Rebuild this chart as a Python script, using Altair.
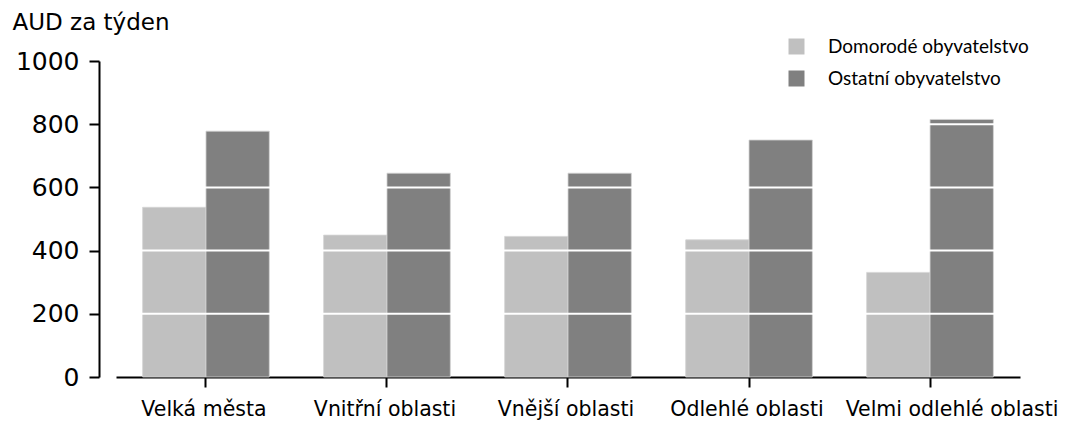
import altair as alt
import pandas as pd

categories = ["Velká města", "Vnitřní oblasti", "Vnější oblasti", "Odlehlé oblasti", "Velmi odlehlé oblasti"]
series = ["Domorodé obyvatelstvo", "Ostatní obyvatelstvo"]
indigenous = [537, 449, 445, 434, 331]
other = [778, 645, 645, 750, 815]
grid_values = [200, 400, 600, 800]
colors = ["#c0c0c0", "#808080"]

rows = []
for c, a, b in zip(categories, indigenous, other):
    rows.append({"cat": c, "series": series[0], "value": a})
    rows.append({"cat": c, "series": series[1], "value": b})
df = pd.DataFrame(rows)
grid_df = pd.DataFrame({"y": grid_values})

FONT = "DejaVu Sans"

bars = alt.Chart(df).mark_bar(stroke="#d4d4d4", strokeWidth=0.8).encode(
    x=alt.X("cat:N", sort=categories,
            scale=alt.Scale(paddingInner=0.3, paddingOuter=0.147),
            axis=alt.Axis(title=None, labelAngle=0, domainColor="black", domainWidth=2,
                          tickColor="black", tickWidth=2, tickSize=10, labelFontSize=20.5,
                          labelFont=FONT, labelColor="black", labelPadding=12, labelLimit=300,
                          labelOffset={"condition": {"test": "datum.value == 'Velmi odlehlé oblasti'", "value": 22},
                                       "value": -2})),
    xOffset=alt.XOffset("series:N", sort=series),
    y=alt.Y("value:Q", scale=alt.Scale(domain=[0, 1000], nice=False),
            axis=alt.Axis(title="AUD za týden", titleAngle=0, titleAlign="left",
                          titleBaseline="alphabetic",
                          titleX=-87, titleY=-32, titleFontSize=23, titleFontWeight="normal",
                          titleFont=FONT, titleColor="black", format="d",
                          values=[0, 200, 400, 600, 800, 1000], grid=False,
                          offset=17, domainColor="black", domainWidth=2, tickColor="black",
                          tickWidth=2, tickSize=10, labelFontSize=25, labelFont=FONT,
                          labelColor="black", labelPadding=10)),
    color=alt.Color("series:N", sort=series,
                    scale=alt.Scale(domain=series, range=colors),
                    legend=alt.Legend(title=None, orient="none", legendX=671, legendY=-24,
                                      symbolType="square", symbolSize=256, symbolStrokeWidth=0,
                                      labelFontSize=19, labelFont="Lato", labelColor="black",
                                      labelOffset=22, rowPadding=12, labelLimit=400)),
)

rules = alt.Chart(grid_df).mark_rule(color="white", strokeWidth=2).encode(
    y=alt.Y("y:Q")
)

chart = alt.layer(bars, rules).properties(
    width=904, height=316,
    autosize=alt.AutoSizeParams(type="none"),
    padding={"left": 108, "top": 53, "right": 40, "bottom": 50},
).configure_view(stroke=None)

chart.save("out.html", embed_options={"renderer": "svg", "actions": False})
